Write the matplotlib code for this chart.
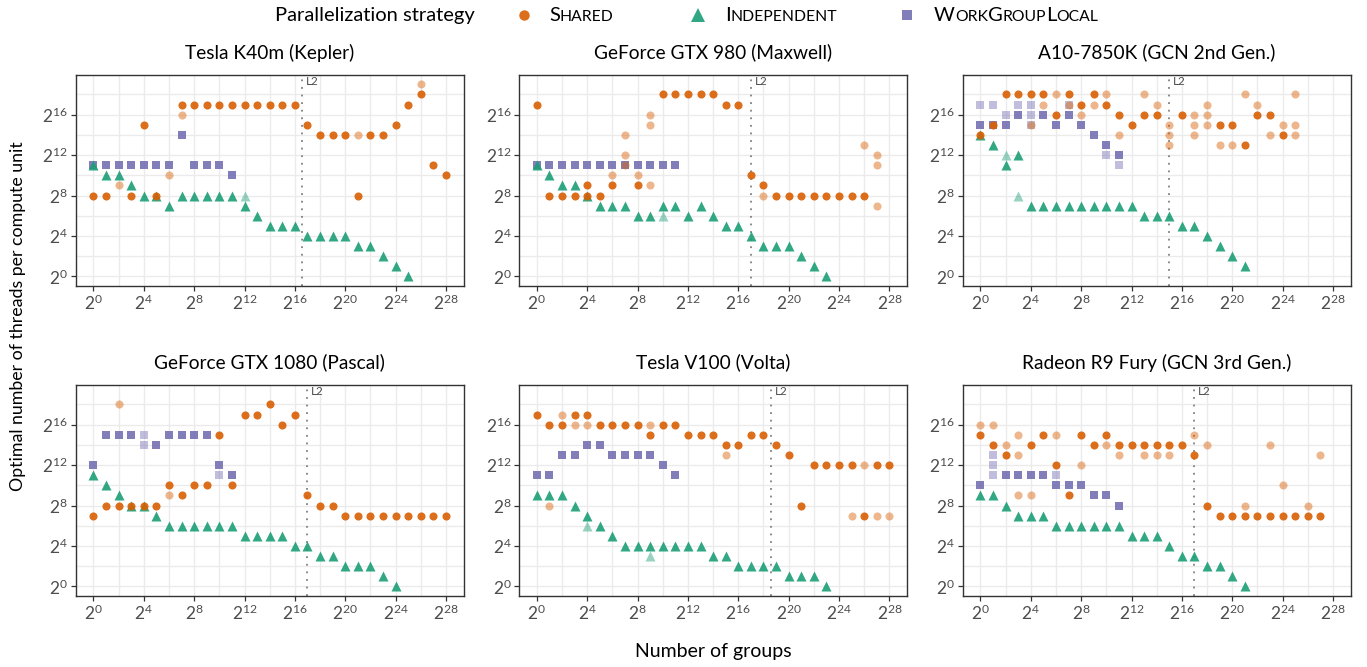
import matplotlib
matplotlib.use("Agg")
import matplotlib.pyplot as plt

FONT = "Lato"
plt.rcParams["font.family"] = FONT
plt.rcParams["mathtext.fontset"] = "custom"
plt.rcParams["mathtext.rm"] = FONT
plt.rcParams["mathtext.default"] = "regular"

# ---------------- data (log2 exponents) ----------------
TITLES = ["Tesla K40m (Kepler)", "GeForce GTX 980 (Maxwell)", "A10-7850K (GCN 2nd Gen.)",
          "GeForce GTX 1080 (Pascal)", "Tesla V100 (Volta)", "Radeon R9 Fury (GCN 3rd Gen.)"]
L2_POS = [16.6, 17.0, 15.0, 17.0, 18.6, 17.0]

# Kepler
kep_shared = [(0, 8), (1, 8), (3, 8), (5, 8), (4, 15), (7, 17), (8, 17), (9, 17), (10, 17), (11, 17),
              (12, 17), (13, 17), (14, 17), (15, 17), (16, 17), (17, 15), (18, 14), (19, 14), (20, 14),
              (22, 14), (23, 14), (24, 15), (25, 17), (26, 18), (27, 11), (28, 10), (21, 8)]
kep_shared_faint = [(2, 9), (6, 10), (7, 16), (21, 14), (26, 19)]
kep_indep = [(0, 11), (1, 10), (2, 10), (3, 9), (4, 8), (5, 8), (6, 7), (7, 8), (8, 8), (9, 8), (10, 8),
             (11, 8), (12, 7), (13, 6), (14, 5), (15, 5), (16, 5), (17, 4), (18, 4), (19, 4), (20, 4),
             (21, 3), (22, 3), (23, 2), (24, 1), (25, 0)]
kep_indep_faint = [(12, 8)]
kep_wgl = [(0, 11), (1, 11), (2, 11), (3, 11), (4, 11), (5, 11), (6, 11), (7, 14), (8, 11), (9, 11),
           (10, 11), (11, 10)]
kep_wgl_faint = []

# Maxwell
max_shared = [(0, 17), (1, 8), (2, 8), (3, 8), (4, 8), (5, 8), (4, 9), (6, 9), (8, 9), (10, 18), (11, 18),
              (12, 18), (13, 18), (14, 18), (15, 17), (16, 17), (17, 10), (18, 9), (19, 8), (20, 8),
              (21, 8), (22, 8), (23, 8), (24, 8), (25, 8), (26, 8)]
max_shared_faint = [(6, 10), (7, 12), (7, 14), (7, 11), (8, 10), (9, 9), (9, 15), (9, 16), (18, 8),
                    (26, 13), (27, 12), (27, 11), (27, 7)]
max_indep = [(0, 11), (1, 10), (2, 9), (3, 9), (4, 8), (5, 7), (6, 7), (7, 7), (8, 6), (9, 6), (10, 7),
             (11, 7), (12, 6), (13, 7), (14, 6), (15, 5), (16, 5), (17, 4), (18, 3), (19, 3), (20, 3),
             (21, 2), (22, 1), (23, 0)]
max_indep_faint = [(10, 6)]
max_wgl = [(0, 11), (1, 11), (2, 11), (3, 11), (4, 11), (5, 11), (6, 11), (7, 11), (8, 11), (9, 11),
           (10, 11), (11, 11)]
max_wgl_faint = []

# A10-7850K
a10_shared = [(0, 14), (1, 15), (2, 18), (3, 18), (4, 18), (5, 18), (7, 18), (9, 18), (8, 17), (10, 17),
              (6, 16), (11, 16), (13, 16), (14, 16), (16, 16), (12, 15), (19, 15), (20, 15), (21, 13),
              (22, 16), (23, 16), (24, 14)]
a10_shared_faint = [(6, 18), (10, 18), (13, 18), (5, 17), (7, 17), (9, 17), (14, 17), (8, 16), (17, 16),
                    (4, 15), (15, 15), (17, 15), (11, 14), (15, 14), (17, 14), (15, 13), (18, 17),
                    (18, 16), (18, 15), (19, 13), (20, 13), (21, 18), (22, 17), (23, 14), (24, 15),
                    (25, 18), (25, 15), (25, 14)]
a10_indep = [(0, 14), (1, 13), (2, 11), (3, 12), (4, 7), (5, 7), (6, 7), (7, 7), (8, 7), (9, 7), (10, 7),
             (11, 7), (12, 7), (13, 6), (14, 6), (15, 6), (16, 5), (17, 5), (18, 4), (19, 3), (20, 2),
             (21, 1)]
a10_indep_faint = [(2, 12), (3, 8)]
a10_wgl = [(3, 16), (5, 16), (7, 16), (0, 15), (1, 15), (2, 15), (6, 15), (8, 15), (9, 14), (10, 13),
           (11, 12)]
a10_wgl_faint = [(0, 17), (1, 17), (3, 17), (4, 17), (7, 17), (2, 16), (4, 16), (4, 15), (10, 12), (11, 11)]

# Pascal
pas_shared = [(0, 7), (1, 8), (2, 8), (3, 8), (4, 8), (5, 8), (6, 10), (7, 9), (8, 10), (9, 10), (10, 15),
              (11, 10), (12, 17), (13, 17), (14, 18), (15, 16), (16, 17), (17, 9), (18, 8), (19, 8),
              (20, 7), (21, 7), (22, 7), (23, 7), (24, 7), (25, 7), (26, 7), (27, 7), (28, 7)]
pas_shared_faint = [(2, 18), (6, 9)]
pas_indep = [(0, 11), (1, 10), (2, 9), (3, 8), (4, 8), (5, 7), (6, 6), (7, 6), (8, 6), (9, 6), (10, 6),
             (11, 6), (12, 5), (13, 5), (14, 5), (15, 5), (16, 4), (17, 4), (18, 3), (19, 3), (20, 2),
             (21, 2), (22, 2), (23, 1), (24, 0)]
pas_indep_faint = []
pas_wgl = [(0, 12), (1, 15), (2, 15), (3, 15), (6, 15), (7, 15), (8, 15), (9, 15), (5, 14), (10, 12),
           (11, 11)]
pas_wgl_faint = [(4, 15), (4, 14), (10, 11)]

# Volta
vol_shared = [(0, 17), (3, 17), (4, 17), (1, 16), (2, 16), (5, 16), (6, 16), (7, 16), (8, 16), (10, 16),
              (11, 16), (9, 15), (12, 15), (13, 15), (14, 15), (15, 14), (16, 14), (17, 15), (18, 15),
              (19, 14), (20, 13), (21, 8), (22, 12), (23, 12), (24, 12), (25, 12), (27, 12), (28, 12),
              (26, 7)]
vol_shared_faint = [(2, 17), (3, 16), (4, 16), (9, 16), (15, 13), (1, 8), (26, 12), (25, 7), (27, 7),
                    (28, 7)]
vol_indep = [(0, 9), (1, 9), (2, 9), (3, 8), (4, 7), (5, 6), (6, 5), (7, 4), (8, 4), (9, 4), (10, 4),
             (11, 4), (12, 4), (13, 4), (14, 3), (15, 3), (16, 2), (17, 2), (18, 2), (19, 2), (20, 1),
             (21, 1), (22, 1), (23, 0)]
vol_indep_faint = [(4, 6), (9, 3)]
vol_wgl = [(0, 11), (1, 11), (2, 13), (3, 13), (4, 14), (5, 14), (6, 13), (7, 13), (8, 13), (9, 13),
           (10, 12), (11, 11)]
vol_wgl_faint = []

# Fury
fur_shared = [(0, 15), (5, 15), (8, 15), (10, 15), (1, 14), (4, 14), (9, 14), (11, 14), (12, 14),
              (13, 14), (14, 14), (15, 14), (16, 14), (2, 13), (17, 13), (6, 12), (7, 9), (18, 8),
              (19, 7), (20, 7), (21, 7), (22, 7), (23, 7), (24, 7), (25, 7), (26, 7), (27, 7)]
fur_shared_faint = [(0, 16), (1, 16), (3, 15), (6, 15), (17, 15), (2, 14), (10, 14), (3, 13), (11, 13),
                    (13, 13), (14, 13), (15, 13), (8, 12), (3, 9), (4, 9), (18, 14), (23, 14), (27, 13),
                    (24, 10), (21, 8), (26, 8)]
fur_indep = [(0, 9), (1, 9), (2, 8), (3, 7), (4, 7), (5, 7), (6, 6), (7, 6), (8, 6), (9, 6), (10, 6),
             (11, 6), (12, 5), (13, 5), (14, 5), (15, 4), (16, 3), (17, 3), (18, 2), (19, 2), (20, 1),
             (21, 0)]
fur_indep_faint = []
fur_wgl = [(0, 10), (2, 11), (3, 11), (4, 11), (5, 11), (6, 10), (7, 10), (8, 10), (9, 9), (10, 9), (11, 8)]
fur_wgl_faint = [(1, 13), (1, 12), (1, 11), (6, 11)]

PANELS = [
    (kep_shared, kep_shared_faint, kep_indep, kep_indep_faint, kep_wgl, kep_wgl_faint),
    (max_shared, max_shared_faint, max_indep, max_indep_faint, max_wgl, max_wgl_faint),
    (a10_shared, a10_shared_faint, a10_indep, a10_indep_faint, a10_wgl, a10_wgl_faint),
    (pas_shared, pas_shared_faint, pas_indep, pas_indep_faint, pas_wgl, pas_wgl_faint),
    (vol_shared, vol_shared_faint, vol_indep, vol_indep_faint, vol_wgl, vol_wgl_faint),
    (fur_shared, fur_shared_faint, fur_indep, fur_indep_faint, fur_wgl, fur_wgl_faint),
]

ORANGE = "#D95F02"
GREEN = "#1B9E77"
PURPLE = "#7570B3"
GRID = "#EBEBEB"
DARK = "#333333"
TXT = "#4D4D4D"

W, H = 1367, 667
fig = plt.figure(figsize=(W / 100, H / 100), dpi=100)
fig.patch.set_facecolor("white")

lefts = [75.7, 519.1, 962.7]
tops = [74.7, 384.7]
pw, ph = 388.0, 211.3

A_SOLID, A_FAINT = 0.9, 0.45


def pts(ax, data, marker, color, size, alpha, z):
    if not data:
        return
    xs = [p[0] for p in data]
    ys = [p[1] for p in data]
    ax.scatter(xs, ys, marker=marker, s=size, color=color, alpha=alpha, linewidths=0, zorder=z)


for i, (title, l2, series) in enumerate(zip(TITLES, L2_POS, PANELS)):
    r, c = divmod(i, 3)
    x0, top = lefts[c], tops[r]
    ax = fig.add_axes([x0 / W, 1 - (top + ph) / H, pw / W, ph / H])
    ax.set_xlim(-1.4, 29.4)
    ax.set_ylim(-0.95, 19.95)
    ax.set_xticks(range(0, 29, 4))
    ax.set_xticklabels([f"$2^{{{k}}}$" for k in range(0, 29, 4)])
    ax.set_xticks(range(0, 29, 2), minor=True)
    ax.set_yticks(range(0, 17, 4))
    ax.set_yticklabels([f"$2^{{{k}}}$" for k in range(0, 17, 4)])
    ax.set_yticks(range(0, 19, 2), minor=True)
    ax.tick_params(which="major", length=3.5, width=0.9, color=DARK, labelcolor=TXT, labelsize=12.5, pad=2)
    ax.tick_params(which="minor", length=0)
    ax.grid(which="both", color=GRID, lw=1.0)
    ax.set_axisbelow(True)
    for s in ax.spines.values():
        s.set_color(DARK)
        s.set_linewidth(1.0)

    sh, shf, ind, indf, wg, wgf = series
    pts(ax, wgf, "s", PURPLE, 32, A_FAINT, 2)
    pts(ax, wg, "s", PURPLE, 32, A_SOLID, 2)
    pts(ax, indf, "^", GREEN, 52, A_FAINT, 3)
    pts(ax, ind, "^", GREEN, 52, A_SOLID, 3)
    pts(ax, shf, "o", ORANGE, 34, A_FAINT, 4)
    pts(ax, sh, "o", ORANGE, 34, A_SOLID, 4)

    ax.axvline(l2, color="#808080", lw=1.3, ls=(0, (1, 3.2)), zorder=1)
    ax.text(l2 + 0.3, 19.3, "L2", fontsize=8.5, color=TXT, ha="left", va="center")

    fig.text((x0 + pw / 2) / W, 1 - (top - 22) / H, title, ha="center", va="center",
             fontsize=13.8, color="black")

fig.text(713 / W, 1 - 651 / H, "Number of groups", ha="center", va="center", fontsize=14)
fig.text(18 / W, 1 - 316 / H, "Optimal number of threads per compute unit", ha="center",
         va="center", rotation=90, fontsize=12.8)

# ---------------- legend ----------------
renderer = fig.canvas.get_renderer()
BASE = 1 - 21 / H
LEG = 14.5


def smallcaps(x_px, word, size):
    runs = []
    for ch in word:
        up = ch.isupper()
        if runs and runs[-1][1] == up:
            runs[-1][0] += ch
        else:
            runs.append([ch, up])
    x = x_px
    for run, up in runs:
        t = fig.text(x / W, BASE, run.upper(), fontsize=size if up else size * 0.78,
                     va="baseline", ha="left", color="black")
        x += t.get_window_extent(renderer).width


fig.text(275 / W, BASE, "Parallelization strategy", fontsize=LEG, va="baseline", ha="left")
fig.add_artist(plt.Line2D([524 / W], [1 - 15 / H], marker="o", ms=7.5, color=ORANGE, alpha=0.9,
                          mew=0, ls="none", transform=fig.transFigure))
smallcaps(549, "Shared", LEG)
fig.add_artist(plt.Line2D([698 / W], [1 - 15 / H], marker="^", ms=9.5, color=GREEN, alpha=0.9,
                          mew=0, ls="none", transform=fig.transFigure))
smallcaps(725, "Independent", LEG)
fig.add_artist(plt.Line2D([907 / W], [1 - 15 / H], marker="s", ms=7.5, color=PURPLE, alpha=0.9,
                          mew=0, ls="none", transform=fig.transFigure))
smallcaps(934, "WorkGroupLocal", LEG)

fig.savefig("out.png", dpi=100, facecolor="white")
